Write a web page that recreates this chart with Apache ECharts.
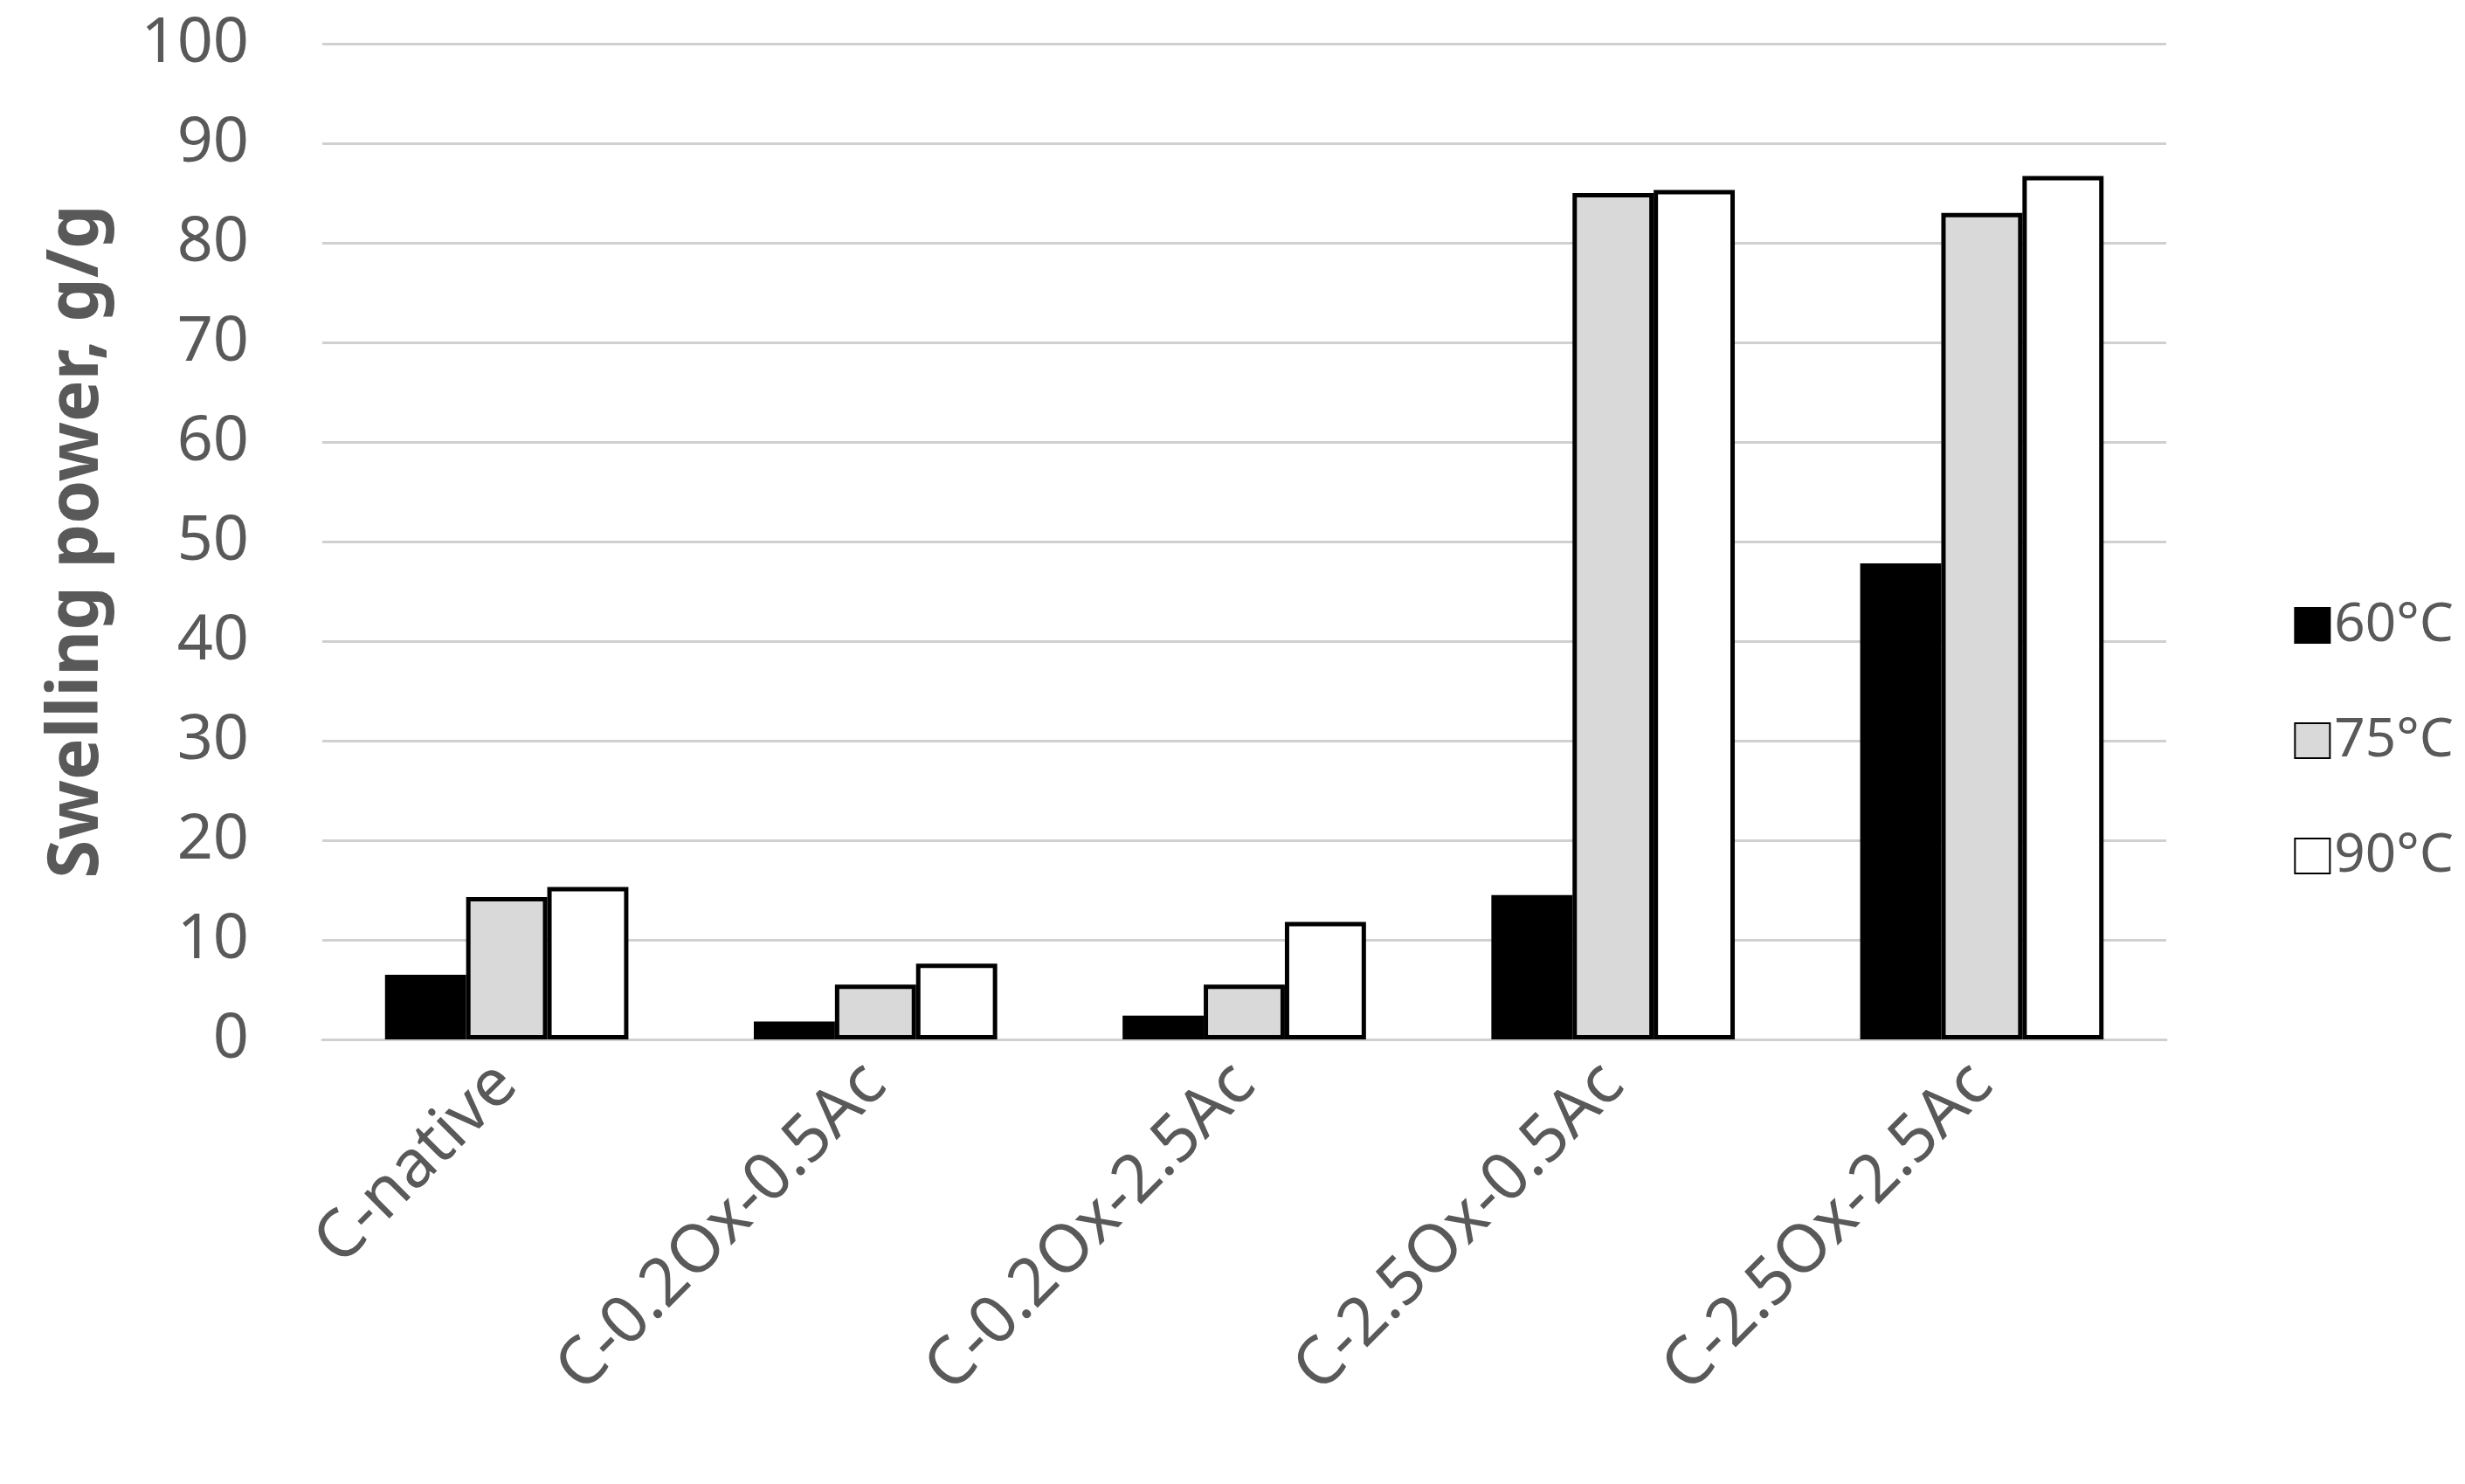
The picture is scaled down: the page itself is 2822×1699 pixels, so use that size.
<!DOCTYPE html>
<html><head><meta charset="utf-8">
<script src="https://cdn.jsdelivr.net/npm/echarts@6/dist/echarts.min.js"></script>
<style>html,body{margin:0;background:#fff}#c{width:2822px;height:1699px}</style>
</head><body><div id="c"></div>
<script>
var categories = ['C-native', 'C-0.2Ox-0.5Ac', 'C-0.2Ox-2.5Ac', 'C-2.5Ox-0.5Ac', 'C-2.5Ox-2.5Ac'];
var s60 = [6.5, 1.8, 2.4, 14.5, 47.8];
var s75 = [14.3, 5.5, 5.5, 85.0, 83.0];
var s90 = [15.3, 7.6, 11.8, 85.3, 86.7];
var yTicks = { min: 0, max: 100, interval: 10 };

var txt = '#595959', font = 'Noto Sans';
function bar(name, data, color) {
	return { name: name, type: 'bar', data: data, barGap: '0%', barCategoryGap: '34%',
		itemStyle: { color: color, borderColor: '#000', borderWidth: 5 } };
}
var chart = echarts.init(document.getElementById('c'));
chart.setOption({
	textStyle: { fontFamily: font },
	grid: { left: 369, right: 342, top: 50, bottom: 509 },
	legend: {
		orient: 'vertical', right: 8, top: 680, itemGap: 70,
		itemWidth: 40, itemHeight: 40, icon: 'rect',
		textStyle: { fontSize: 62, color: txt, fontFamily: font },
		data: ['60°C', '75°C', '90°C']
	},
	xAxis: {
		type: 'category', data: categories,
		axisLine: { lineStyle: { color: '#d0d0d0', width: 3 } },
		axisTick: { show: false },
		axisLabel: { rotate: 45, fontSize: 76, color: txt, margin: 40 }
	},
	yAxis: {
		type: 'value', min: yTicks.min, max: yTicks.max, interval: yTicks.interval,
		name: 'Swelling power, g/g', nameLocation: 'middle', nameGap: 240,
		nameTextStyle: { fontSize: 80, fontWeight: 'bold', color: txt },
		axisLine: { show: false }, axisTick: { show: false },
		axisLabel: { fontSize: 72, color: txt, margin: 84 },
		splitLine: { lineStyle: { color: '#d0d0d0', width: 3 } }
	},
	series: [bar('60°C', s60, '#000'), bar('75°C', s75, '#d9d9d9'), bar('90°C', s90, '#fff')]
});
</script></body></html>
